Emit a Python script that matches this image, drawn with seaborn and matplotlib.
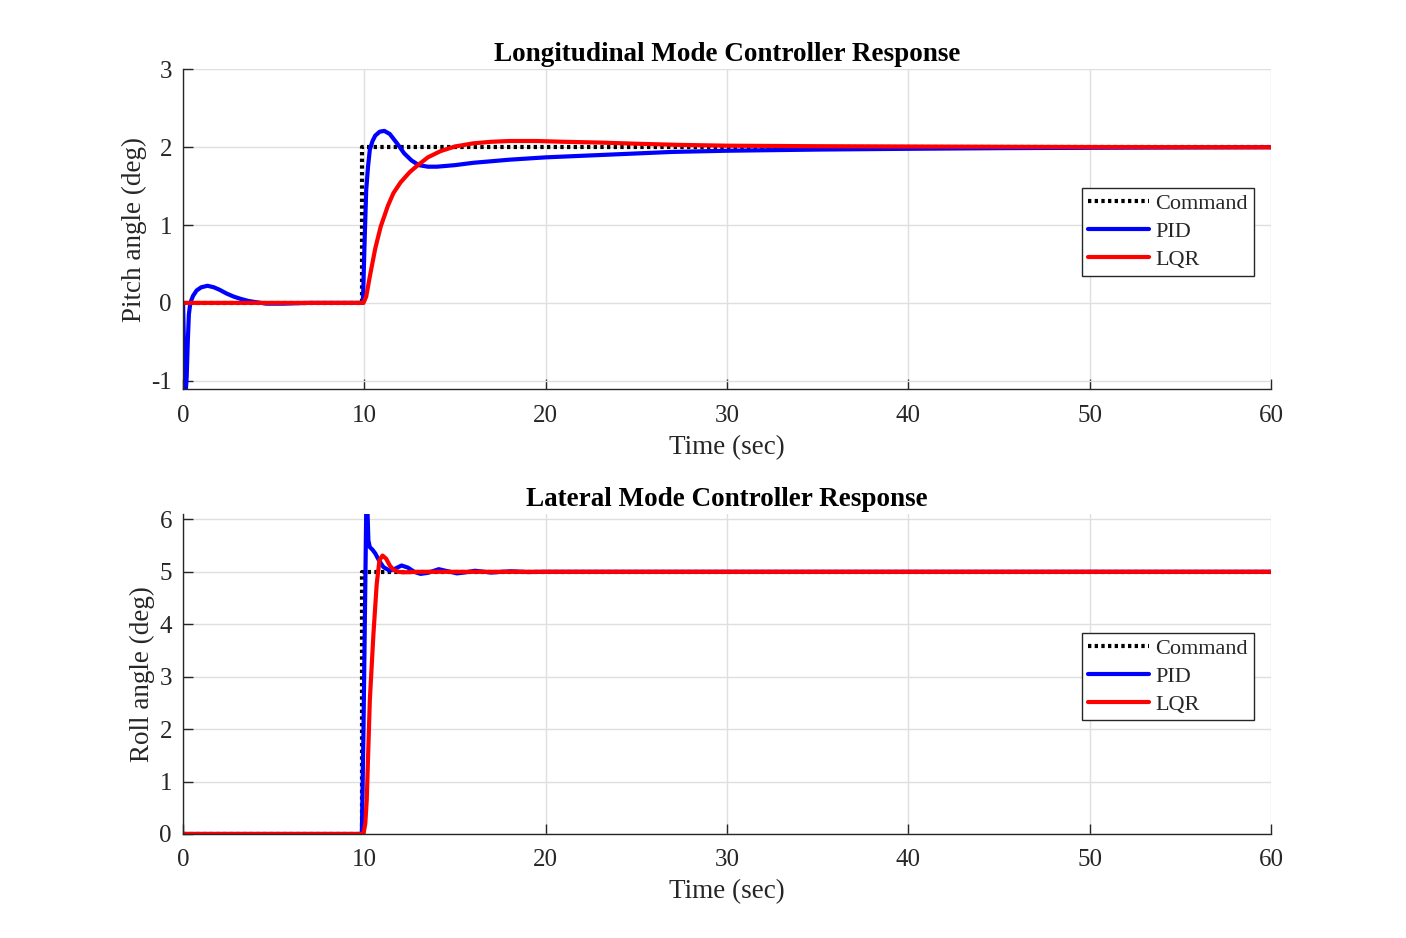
import numpy as np
import pandas as pd
import matplotlib
matplotlib.use('Agg')
import matplotlib.pyplot as plt
import seaborn as sns

# pitch (longitudinal) response
cmdPitchT = [0, 9.86, 9.86, 60]
cmdPitchV = [0, 0, 2, 2]

pidPitchT = [0, 0.05, 0.1, 0.15, 0.2, 0.26, 0.32, 0.4, 0.55, 0.75, 1.0, 1.35, 1.7, 2.0, 2.4, 2.8, 3.2,
             3.6, 4.0, 4.6, 5.5, 7.0, 9.92, 10.0, 10.1, 10.2, 10.3, 10.45, 10.6, 10.85, 11.1,
             11.4, 11.8, 12.2, 12.6, 13.0, 13.5, 14.0, 15.0, 16.0, 18.0, 20.0, 23.0, 27.0,
             30.0, 35.0, 40.0, 45.0, 50.0, 55.0, 60.0]
pidPitchV = [0, -0.55, -1.0, -1.13, -0.95, -0.5, -0.15, 0.0, 0.09, 0.16, 0.2, 0.22, 0.2, 0.17, 0.12,
             0.08, 0.05, 0.025, 0.01, -0.01, -0.01, 0.0, 0.0, 0.7, 1.45, 1.75, 1.97, 2.08, 2.15, 2.2, 2.21,
             2.17, 2.05, 1.92, 1.83, 1.77, 1.75, 1.75, 1.77, 1.8, 1.84, 1.87, 1.9, 1.94,
             1.955, 1.97, 1.98, 1.988, 1.993, 1.997, 2.0]

lqrPitchT = [0, 9.95, 10.1, 10.3, 10.6, 10.9, 11.3, 11.6, 12.0, 12.5, 12.9, 13.5, 14.2, 15.0, 16.0,
             17.0, 18.0, 19.5, 21.0, 23.0, 25.0, 27.4, 30.0, 35.0, 42.0, 50.0, 60.0]
lqrPitchV = [0, 0, 0.08, 0.34, 0.7, 0.98, 1.25, 1.41, 1.55, 1.68, 1.76, 1.87, 1.95, 2.01, 2.05,
             2.07, 2.08, 2.08, 2.07, 2.06, 2.045, 2.03, 2.02, 2.013, 2.008, 2.003, 2.0]

# roll (lateral) response
cmdRollT = [0, 9.86, 9.86, 60]
cmdRollV = [0, 0, 5, 5]

pidRollT = [0, 9.86, 9.95, 10.03, 10.1, 10.15, 10.22, 10.3, 10.45, 10.6, 10.8, 11.05, 11.4, 11.7,
            12.05, 12.4, 12.75, 13.1, 13.5, 14.1, 14.6, 15.1, 15.6, 16.1, 16.6, 17.0, 17.6,
            18.1, 19.0, 20.0, 60.0]
pidRollV = [0, 0, 2.0, 4.2, 6.1, 6.4, 5.6, 5.47, 5.42, 5.35, 5.22, 5.09, 5.02, 5.06,
            5.12, 5.08, 5.0, 4.96, 4.98, 5.05, 5.01, 4.97, 4.99, 5.02, 5.0, 4.985, 5.0,
            5.01, 4.995, 5.0, 5.0]

lqrRollT = [0, 9.95, 10.05, 10.13, 10.3, 10.5, 10.68, 10.83, 11.0, 11.2, 11.4, 11.6, 11.87, 12.2, 13.0, 60.0]
lqrRollV = [0, 0, 0.2, 0.65, 2.55, 3.82, 4.77, 5.22, 5.31, 5.25, 5.12, 5.04, 5.0, 4.99, 5.0, 5.0]


sns.set_theme(style='whitegrid')
plt.rcParams['font.family'] = ['Liberation Serif', 'DejaVu Serif']

txtColor = '#262626'


def responsePlot(ax, cmdT, cmdV, pidT, pidV, lqrT, lqrV, title, ylabel, ylim, yticks):

    sns.lineplot(x=cmdT, y=cmdV, ax=ax, color='black', lw=3, linestyle=(0, (0.8, 0.8)),
                 label='Command', estimator=None, sort=False)
    sns.lineplot(x=pidT, y=pidV, ax=ax, color='#0000ff', lw=3, label='PID', estimator=None, sort=False)
    sns.lineplot(x=lqrT, y=lqrV, ax=ax, color='#ff0000', lw=3, label='LQR', estimator=None, sort=False)

    ax.set_xlim(0, 60)
    ax.set_ylim(*ylim)
    ax.set_xticks(range(0, 61, 10))
    ax.set_yticks(yticks)
    ax.set_yticklabels([str(v) for v in yticks])
    ax.grid(True, color='#dfdfdf', lw=1)
    for s in ['top', 'right']:
        ax.spines[s].set_visible(False)
    for s in ['left', 'bottom']:
        ax.spines[s].set_color(txtColor)
        ax.spines[s].set_linewidth(1.0)
    ax.tick_params(direction='in', length=7, width=1, colors=txtColor, labelsize=18,
                   left=True, bottom=True)
    ax.tick_params(axis='x', pad=11)
    ax.tick_params(axis='y', pad=8)
    ax.set_title(title, fontsize=19.5, fontweight='bold', color='black', pad=6)
    ax.set_xlabel('Time (sec)', fontsize=19.5, color=txtColor, labelpad=6)
    ax.set_ylabel(ylabel, fontsize=19.5, color=txtColor, labelpad=3)
    leg = ax.legend(loc='upper right', bbox_to_anchor=(0.984, 0.629), borderaxespad=0,
                    fontsize=16, frameon=True, fancybox=False, handlelength=2.75,
                    handletextpad=0.3, borderpad=0.25, labelspacing=0.33)
    leg.get_frame().set_edgecolor('#262626')
    leg.get_frame().set_linewidth(1.0)
    leg.get_frame().set_alpha(1)


fig = plt.figure(figsize=(14.06, 9.38), dpi=100)
ax1 = fig.add_axes([0.1302, 0.585, 0.7738, 0.341])
ax2 = fig.add_axes([0.1302, 0.1109, 0.7738, 0.341])

responsePlot(ax1, cmdPitchT, cmdPitchV, pidPitchT, pidPitchV, lqrPitchT, lqrPitchV,
             'Longitudinal Mode Controller Response', 'Pitch angle (deg)', (-1.11, 3), [-1, 0, 1, 2, 3])
responsePlot(ax2, cmdRollT, cmdRollV, pidRollT, pidRollV, lqrRollT, lqrRollV,
             'Lateral Mode Controller Response', 'Roll angle (deg)', (0, 6.1), [0, 1, 2, 3, 4, 5, 6])

fig.savefig('out.png', dpi=100, facecolor='white')
plt.close()
